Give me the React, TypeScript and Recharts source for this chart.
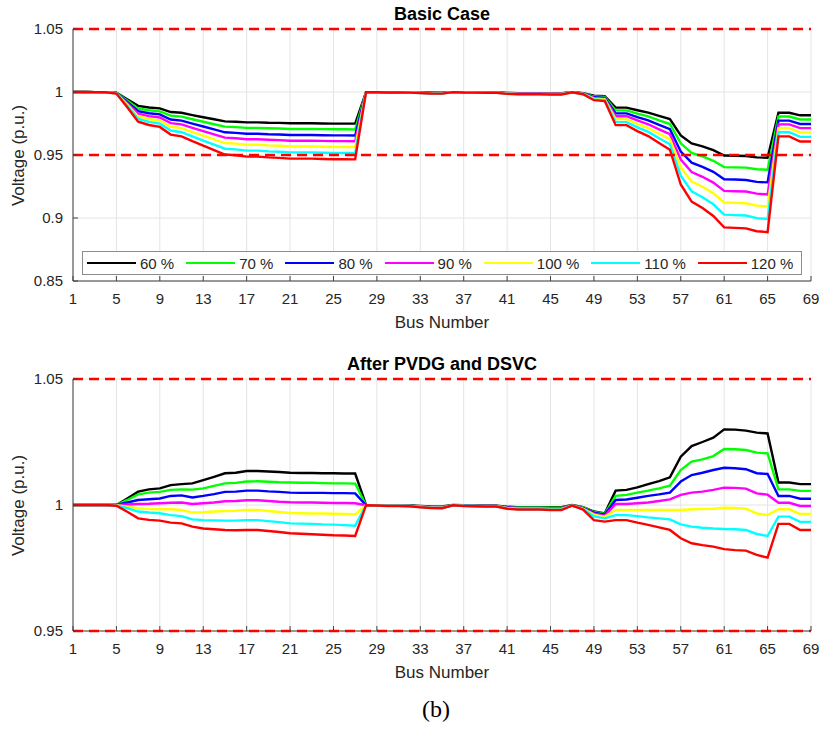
import React from 'react';
import { LineChart, Line, XAxis, YAxis, CartesianGrid, ReferenceLine } from 'recharts';

// ---------- categories ----------
const BUS = [1,2,3,4,5,6,7,8,9,10,11,12,13,14,15,16,17,18,19,20,21,22,23,24,25,26,27,28,29,30,31,32,33,34,35,36,37,38,39,40,41,42,43,44,45,46,47,48,49,50,51,52,53,54,55,56,57,58,59,60,61,62,63,64,65,66,67,68,69];
const X_TICKS = [1,5,9,13,17,21,25,29,33,37,41,45,49,53,57,61,65,69];
const Y_TICKS_TOP = [0.85, 0.9, 0.95, 1, 1.05];
const Y_TICKS_BOTTOM = [0.95, 1, 1.05];
const LIMITS = [0.95, 1.05];

// ---------- Basic case ----------
const base60 = [1,1,0.9999,0.9999,0.9994,0.9943,0.989,0.9877,0.987,0.9841,0.9835,0.9817,0.98,0.9784,0.9767,0.9764,0.9759,0.9759,0.9756,0.9755,0.9752,0.9752,0.9752,0.975,0.9749,0.9749,0.9749,0.9999,0.9999,0.9998,0.9998,0.9998,0.9996,0.9994,0.9994,0.9999,0.9998,0.9998,0.9997,0.9997,0.9993,0.9991,0.9991,0.9991,0.9991,0.9991,0.9999,0.9991,0.997,0.9966,0.9876,0.9876,0.9855,0.9836,0.981,0.9785,0.9656,0.9592,0.9568,0.9538,0.9496,0.9494,0.9492,0.9481,0.9478,0.9835,0.9835,0.9815,0.9815];
const base70 = [1,1,0.9999,0.9999,0.9993,0.9933,0.9869,0.9855,0.9846,0.9812,0.9805,0.9784,0.9764,0.9744,0.9725,0.9721,0.9715,0.9715,0.9712,0.971,0.9706,0.9706,0.9706,0.9705,0.9704,0.9704,0.9703,0.9999,0.9999,0.9998,0.9998,0.9997,0.9995,0.9993,0.9993,0.9999,0.9998,0.9997,0.9997,0.9997,0.9992,0.999,0.999,0.999,0.9989,0.9989,0.9999,0.999,0.9964,0.996,0.9854,0.9854,0.9828,0.9806,0.9775,0.9746,0.9593,0.9517,0.9489,0.9454,0.9404,0.9402,0.94,0.9387,0.9383,0.9805,0.9805,0.9782,0.9782];
const base80 = [1,1,0.9999,0.9998,0.9992,0.9922,0.9848,0.9831,0.9822,0.9782,0.9773,0.9749,0.9726,0.9703,0.968,0.9676,0.9669,0.9669,0.9665,0.9663,0.9659,0.9659,0.9659,0.9657,0.9656,0.9656,0.9655,0.9999,0.9998,0.9998,0.9998,0.9997,0.9994,0.9992,0.9991,0.9999,0.9998,0.9997,0.9996,0.9996,0.9991,0.9988,0.9988,0.9988,0.9987,0.9987,0.9998,0.9988,0.9958,0.9953,0.983,0.983,0.98,0.9774,0.9739,0.9705,0.9527,0.9439,0.9406,0.9366,0.9307,0.9305,0.9302,0.9287,0.9283,0.9773,0.9773,0.9746,0.9746];
const base90 = [1,1,0.9999,0.9998,0.9991,0.9911,0.9828,0.9809,0.9798,0.9753,0.9743,0.9715,0.9689,0.9663,0.9638,0.9633,0.9625,0.9625,0.9621,0.9618,0.9613,0.9613,0.9613,0.9612,0.961,0.961,0.9609,0.9999,0.9998,0.9997,0.9997,0.9996,0.9994,0.9991,0.999,0.9999,0.9997,0.9996,0.9996,0.9996,0.9989,0.9987,0.9987,0.9987,0.9986,0.9986,0.9998,0.9987,0.9953,0.9947,0.9808,0.9808,0.9774,0.9744,0.9704,0.9665,0.9464,0.9365,0.9327,0.9281,0.9215,0.9212,0.921,0.9193,0.9187,0.9743,0.9743,0.9713,0.9713];
const base100 = [1,1,0.9999,0.9998,0.999,0.9901,0.9808,0.9786,0.9774,0.9724,0.9713,0.9682,0.9653,0.9624,0.9595,0.959,0.9581,0.9581,0.9576,0.9573,0.9568,0.9568,0.9568,0.9566,0.9564,0.9564,0.9563,0.9999,0.9998,0.9997,0.9997,0.9996,0.9993,0.999,0.9989,0.9999,0.9997,0.9996,0.9995,0.9995,0.9988,0.9985,0.9985,0.9985,0.9984,0.9984,0.9998,0.9985,0.9947,0.9941,0.9785,0.9785,0.9747,0.9714,0.9669,0.9626,0.9401,0.929,0.9248,0.9197,0.9123,0.912,0.9117,0.9098,0.9092,0.9713,0.9713,0.9679,0.9679];
const base110 = [1,1,0.9999,0.9998,0.9989,0.989,0.9787,0.9763,0.9749,0.9694,0.9681,0.9647,0.9615,0.9583,0.955,0.9545,0.9535,0.9535,0.9529,0.9526,0.9521,0.9521,0.9521,0.9518,0.9516,0.9516,0.9515,0.9999,0.9998,0.9997,0.9997,0.9996,0.9992,0.9989,0.9988,0.9999,0.9997,0.9996,0.9994,0.9994,0.9987,0.9983,0.9983,0.9983,0.9982,0.9982,0.9998,0.9983,0.9941,0.9935,0.9761,0.9761,0.9719,0.9683,0.9633,0.9585,0.9335,0.9212,0.9165,0.9109,0.9027,0.9023,0.902,0.8999,0.8992,0.9681,0.9681,0.9644,0.9644];
const base120 = [1,1,0.9999,0.9998,0.9988,0.9879,0.9765,0.9738,0.9723,0.9662,0.9648,0.961,0.9575,0.9539,0.9504,0.9498,0.9487,0.9487,0.9481,0.9477,0.9471,0.9471,0.9471,0.9468,0.9466,0.9466,0.9465,0.9999,0.9998,0.9996,0.9996,0.9995,0.9991,0.9988,0.9987,0.9999,0.9996,0.9995,0.9994,0.9994,0.9985,0.9982,0.9982,0.9982,0.998,0.998,0.9998,0.9982,0.9935,0.9928,0.9737,0.9737,0.969,0.965,0.9595,0.9542,0.9266,0.913,0.9079,0.9016,0.8926,0.8922,0.8918,0.8895,0.8888,0.9648,0.9648,0.9607,0.9607];

// ---------- After PVDG and DSVC ----------
const pv60 = [1,1,1,1,1,1.0026,1.0053,1.0062,1.0066,1.0079,1.0083,1.0086,1.0099,1.0112,1.0126,1.0128,1.0135,1.0135,1.0133,1.0131,1.0128,1.0127,1.0127,1.0126,1.0126,1.0125,1.0125,1,0.9999,0.9999,0.9999,0.9998,0.9996,0.9994,0.9994,1,0.9999,0.9998,0.9997,0.9997,0.9993,0.9991,0.9991,0.9991,0.9991,0.9991,1,0.9991,0.9974,0.9967,1.0057,1.006,1.007,1.0083,1.0095,1.011,1.0192,1.0234,1.025,1.0267,1.03,1.0299,1.0295,1.0287,1.0284,1.0089,1.0089,1.0083,1.0083];
const pv70 = [1,1,1,1,1,1.002,1.0042,1.0049,1.0052,1.006,1.0062,1.0061,1.0066,1.0076,1.0086,1.0088,1.0093,1.0094,1.0092,1.009,1.0089,1.0088,1.0088,1.0087,1.0086,1.0086,1.0085,0.9999,0.9999,0.9998,0.9998,0.9997,0.9995,0.9993,0.9993,0.9999,0.9998,0.9997,0.9997,0.9997,0.9992,0.999,0.999,0.999,0.9989,0.9989,0.9999,0.999,0.9972,0.9965,1.0036,1.004,1.0049,1.0057,1.0066,1.0077,1.0139,1.0172,1.0181,1.0194,1.0222,1.0221,1.0218,1.0208,1.0205,1.0062,1.0062,1.0056,1.0056];
const pv80 = [1,1,1,1,1,1.001,1.002,1.0023,1.0026,1.0036,1.0038,1.003,1.0036,1.0043,1.0052,1.0053,1.0057,1.0057,1.0054,1.0052,1.0049,1.0048,1.0048,1.0048,1.0047,1.0047,1.0046,0.9999,0.9998,0.9998,0.9998,0.9997,0.9994,0.9992,0.9991,0.9999,0.9998,0.9997,0.9996,0.9996,0.9991,0.9988,0.9988,0.9988,0.9987,0.9987,0.9998,0.9988,0.997,0.9962,1.002,1.0022,1.0029,1.0036,1.0042,1.0049,1.0093,1.0119,1.0128,1.0139,1.0148,1.0146,1.0142,1.0126,1.0123,1.0036,1.0036,1.0025,1.0025];
const pv90 = [1,1,1,1,1,1.0002,1.0004,1.0005,1.0007,1.0009,1.001,1.0004,1.0007,1.001,1.0015,1.0016,1.0019,1.0019,1.0016,1.0013,1.0011,1.001,1.001,1.0009,1.0008,1.0008,1.0007,0.9999,0.9998,0.9997,0.9997,0.9996,0.9994,0.9991,0.999,0.9999,0.9997,0.9996,0.9996,0.9996,0.9989,0.9987,0.9987,0.9987,0.9986,0.9986,0.9998,0.9987,0.9966,0.9958,1.0004,1.0004,1.0007,1.001,1.0016,1.0022,1.004,1.0049,1.0053,1.006,1.0069,1.0068,1.0065,1.0046,1.0041,1.0009,1.0009,0.9996,0.9996];
const pv100 = [1,1,1,1,0.9999,0.9993,0.9987,0.9984,0.9983,0.9983,0.998,0.997,0.9971,0.9974,0.9976,0.9977,0.998,0.998,0.9976,0.9972,0.9968,0.9967,0.9966,0.9966,0.9965,0.9964,0.9963,0.9999,0.9998,0.9997,0.9997,0.9996,0.9993,0.999,0.9989,0.9999,0.9997,0.9996,0.9995,0.9995,0.9988,0.9985,0.9985,0.9985,0.9984,0.9984,0.9998,0.9985,0.9962,0.9953,0.998,0.998,0.998,0.998,0.998,0.998,0.998,0.9983,0.9984,0.9985,0.9989,0.9988,0.9985,0.9967,0.996,0.9983,0.9983,0.9964,0.9964];
const pv110 = [1,1,1,1,0.9998,0.9987,0.9974,0.997,0.9967,0.996,0.9956,0.9943,0.994,0.9939,0.9938,0.9938,0.994,0.994,0.9936,0.9932,0.9927,0.9926,0.9925,0.9923,0.9922,0.992,0.9918,0.9999,0.9998,0.9997,0.9997,0.9996,0.9992,0.9989,0.9988,0.9999,0.9997,0.9996,0.9994,0.9994,0.9987,0.9983,0.9983,0.9983,0.9982,0.9982,0.9998,0.9983,0.9955,0.9947,0.996,0.996,0.9956,0.9951,0.9947,0.9943,0.9923,0.9914,0.991,0.9907,0.9905,0.9904,0.9901,0.9885,0.9877,0.9954,0.9954,0.9933,0.9933];
const pv120 = [1,1,1,1,0.9997,0.9973,0.9947,0.9941,0.9938,0.993,0.9927,0.9914,0.9907,0.9904,0.9901,0.99,0.9901,0.9901,0.9897,0.9893,0.9888,0.9886,0.9884,0.9882,0.988,0.9879,0.9877,0.9999,0.9998,0.9996,0.9996,0.9995,0.9991,0.9988,0.9987,0.9999,0.9996,0.9995,0.9994,0.9994,0.9985,0.9982,0.9982,0.9982,0.998,0.998,0.9998,0.9982,0.994,0.9934,0.994,0.994,0.993,0.9921,0.9911,0.9901,0.9868,0.9848,0.9841,0.9835,0.9825,0.9821,0.9819,0.9802,0.9791,0.9925,0.9925,0.9901,0.9901];

const SERIES = [
  { key: 's60', name: '60 %', color: '#000000' },
  { key: 's70', name: '70 %', color: '#00ff00' },
  { key: 's80', name: '80 %', color: '#0000ff' },
  { key: 's90', name: '90 %', color: '#ff00ff' },
  { key: 's100', name: '100 %', color: '#ffff00' },
  { key: 's110', name: '110 %', color: '#00ffff' },
  { key: 's120', name: '120 %', color: '#ff0000' },
];

function buildRows(arrs: number[][]) {
  return BUS.map((b, i) => {
    const r: Record<string, number> = { bus: b };
    SERIES.forEach((s, j) => { r[s.key] = arrs[j][i]; });
    return r;
  });
}

const topRows = buildRows([base60, base70, base80, base90, base100, base110, base120]);
const bottomRows = buildRows([pv60, pv70, pv80, pv90, pv100, pv110, pv120]);

const SANS = '"Liberation Sans", Arial, Helvetica, sans-serif';
const tickStyle = { fontSize: 15, fill: '#262626', fontFamily: SANS };

function Legend() {
  return (
    <div style={{
      position: 'absolute', left: 82, top: 251, width: 720, height: 24, boxSizing: 'border-box',
      border: '1px solid #8c8c8c', background: '#fff', display: 'flex', alignItems: 'center',
      paddingLeft: 4, fontFamily: SANS, fontSize: 15, color: '#262626', whiteSpace: 'nowrap',
    }}>
      {SERIES.map((s) => (
        <div key={s.key} style={{ display: 'flex', alignItems: 'center', marginRight: 12 }}>
          <div style={{ width: 49, height: 2.5, background: s.color, marginRight: 4 }} />
          <span style={{ lineHeight: '15px' }}>{s.name}</span>
        </div>
      ))}
    </div>
  );
}

function Panel(props: { top: number; title: string; rows: any[]; domain: [number, number]; ticks: number[]; legend?: boolean }) {
  const { top, title, rows, domain, ticks, legend } = props;
  return (
    <div style={{ position: 'absolute', left: 0, top, width: 821, height: 320 }}>
      <LineChart width={821} height={320} data={rows} margin={{ top: 29, right: 10, bottom: 9, left: 0 }}>
        <CartesianGrid stroke="#e4e4e4" strokeWidth={1} />
        <XAxis dataKey="bus" type="number" domain={[1, 69]} ticks={X_TICKS} interval={0} height={30}
          tickSize={-5} tickMargin={17} tick={tickStyle} stroke="#404040" axisLine={false} allowDataOverflow />
        <YAxis type="number" domain={domain} ticks={ticks} interval={0} width={73}
          tickSize={-5} tickMargin={15} tick={tickStyle} stroke="#404040" allowDataOverflow
          tickFormatter={(v: number) => String(v)} />
        {SERIES.map((s) => (
          <Line key={s.key} dataKey={s.key} name={s.name} type="linear" stroke={s.color} strokeWidth={2.4}
            dot={false} activeDot={false} isAnimationActive={false} />
        ))}
        <ReferenceLine y={domain[0]} stroke="#404040" strokeWidth={1.2} />
        {LIMITS.map((v) => (
          <ReferenceLine key={v} y={v} stroke="#ff0000" strokeWidth={2.5} strokeDasharray="10 6" />
        ))}
      </LineChart>
      <div style={{ position: 'absolute', left: 73, top: 5, width: 738, textAlign: 'center', fontFamily: SANS,
        fontWeight: 'bold', fontSize: 18, lineHeight: '18px', color: '#000' }}>{title}</div>
      <div style={{ position: 'absolute', left: 73, top: 314, width: 738, textAlign: 'center', fontFamily: SANS,
        fontSize: 17, lineHeight: '17px', color: '#262626' }}>Bus Number</div>
      <div style={{ position: 'absolute', left: 18 - 100, top: 155 - 8.5, width: 200, height: 17, textAlign: 'center',
        fontFamily: SANS, fontSize: 17, lineHeight: '17px', color: '#262626', transform: 'rotate(-90deg)' }}>Voltage (p.u.)</div>
      {legend ? <Legend /> : null}
    </div>
  );
}

export default function App() {
  return (
    <div style={{ position: 'absolute', left: 0, top: 0, width: 821, height: 731, background: '#fff', overflow: 'hidden' }}>
      <Panel top={0} title="Basic Case" rows={topRows} domain={[0.85, 1.05]} ticks={Y_TICKS_TOP} legend />
      <Panel top={350} title="After PVDG and DSVC" rows={bottomRows} domain={[0.95, 1.05]} ticks={Y_TICKS_BOTTOM} />
      <div style={{ position: 'absolute', left: 336, top: 697, width: 200, textAlign: 'center',
        fontFamily: '"Liberation Serif", "Times New Roman", serif', fontSize: 24, lineHeight: '24px', color: '#000' }}>(b)</div>
    </div>
  );
}
